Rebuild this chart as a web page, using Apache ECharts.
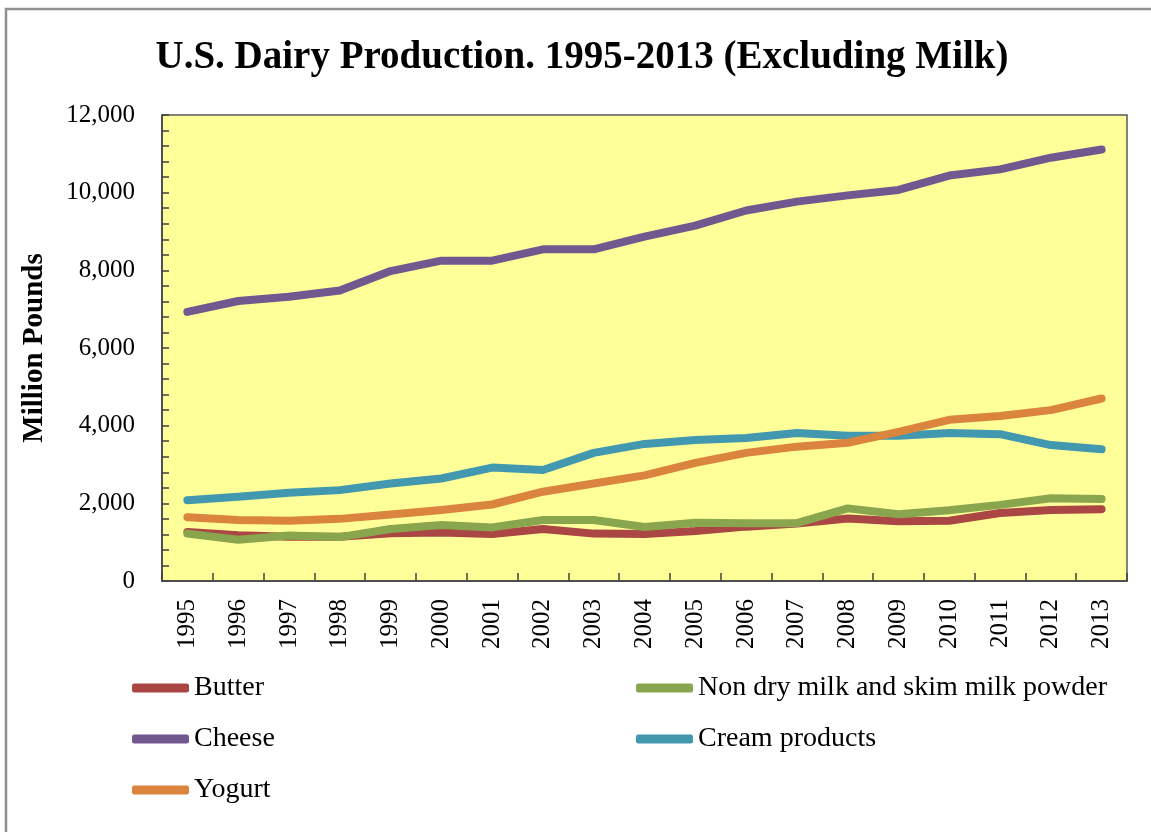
<!DOCTYPE html>
<html>
<head>
<meta charset="utf-8">
<script src="https://cdn.jsdelivr.net/npm/echarts@6/dist/echarts.min.js"></script>
<style>
html,body{margin:0;padding:0;background:#fff;}
#chart{width:1151px;height:832px;}
</style>
</head>
<body>
<div id="chart"></div>
<script>
var years = ['1995','1996','1997','1998','1999','2000','2001','2002','2003','2004','2005','2006','2007','2008','2009','2010','2011','2012','2013'];
var butter = [1260,1180,1140,1140,1230,1250,1210,1340,1220,1210,1290,1400,1480,1610,1540,1550,1750,1830,1850];
var nonDryMilk = [1220,1060,1170,1130,1340,1440,1380,1570,1570,1390,1500,1490,1490,1870,1720,1820,1960,2130,2110];
var cheese = [6930,7210,7320,7480,7980,8250,8250,8540,8540,8870,9150,9540,9770,9930,10070,10440,10600,10900,11110];
var creamProducts = [2080,2170,2270,2340,2510,2640,2920,2860,3300,3530,3630,3680,3810,3740,3740,3810,3780,3500,3390];
var yogurt = [1640,1570,1550,1600,1710,1830,1970,2300,2510,2720,3040,3300,3460,3560,3840,4150,4250,4400,4700];
var seriesNames = ['Butter','Non dry milk and skim milk powder','Cheese','Cream products','Yogurt'];
var seriesColors = ['#AA4643','#89A54E','#71588F','#4198AF','#DB843D'];
var seriesData = [butter, nonDryMilk, cheese, creamProducts, yogurt];

var FONT = '"Liberation Serif", "Times New Roman", serif';
var chart = echarts.init(document.getElementById('chart'), null, {renderer:'canvas'});

var series = seriesNames.map(function(n, i){
  return {
    name: n, type: 'line', data: seriesData[i], showSymbol: false, symbol: 'none',
    lineStyle: {width: 8, color: seriesColors[i], cap: 'round', join: 'round'},
    itemStyle: {color: seriesColors[i]},
    z: 2 + i
  };
});

var legendCommon = {
  orient: 'vertical', itemWidth: 57, itemHeight: 9, itemGap: 21, padding: 0,
  icon: 'roundRect',
  textStyle: {fontFamily: FONT, fontSize: 28, color: '#000', lineHeight: 30},
  selectedMode: false
};

chart.setOption({
  animation: false,
  backgroundColor: '#fff',
  graphic: [
    {type: 'rect', shape: {x: 6, y: 9, width: 1300, height: 1000}, style: {fill: 'none', stroke: '#8f8f8f', lineWidth: 2.5}, z: 0},
    {type: 'text', x: 582, y: 58, style: {text: 'U.S. Dairy Production. 1995-2013 (Excluding Milk)', font: 'bold 39px ' + FONT, fill: '#000', textAlign: 'center', textVerticalAlign: 'middle'}}
  ],
  legend: [
    Object.assign({left: 132, top: 673, data: ['Butter','Cheese','Yogurt']}, legendCommon),
    Object.assign({left: 636, top: 673, data: ['Non dry milk and skim milk powder','Cream products']}, legendCommon)
  ],
  grid: {left: 162, top: 115, width: 965, height: 466, show: true, backgroundColor: '#FFFF99', borderColor: '#595959', borderWidth: 1.5, containLabel: false},
  xAxis: {
    type: 'category', data: years, boundaryGap: true,
    axisLine: {show: true, lineStyle: {color: '#404040', width: 1.5}},
    axisTick: {show: true, inside: true, length: 8, alignWithLabel: false, lineStyle: {color: '#404040', width: 1.5}},
    axisLabel: {rotate: 90, margin: 18, fontFamily: FONT, fontSize: 25, color: '#000', interval: 0},
    splitLine: {show: false}
  },
  yAxis: {
    type: 'value', min: 0, max: 12000, interval: 400,
    name: 'Million Pounds', nameLocation: 'middle', nameGap: 113, nameRotate: 90,
    nameTextStyle: {fontFamily: FONT, fontSize: 29, fontWeight: 'bold', color: '#000'},
    axisLine: {show: true, lineStyle: {color: '#404040', width: 1.5}},
    axisTick: {show: true, inside: true, length: 7, lineStyle: {color: '#404040', width: 1.5}},
    axisLabel: {margin: 27, fontFamily: FONT, fontSize: 25, color: '#000',
      formatter: function(v){ return (v % 2000 === 0) ? v.toLocaleString('en-US') : ''; }},
    splitLine: {show: false}
  },
  series: series
});
</script>
</body>
</html>
